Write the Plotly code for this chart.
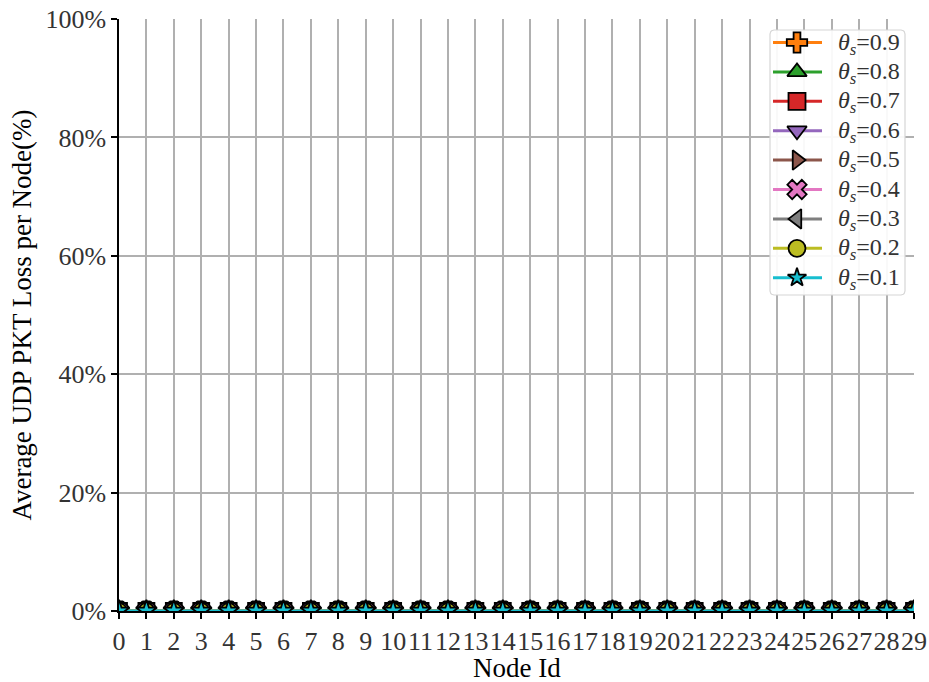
import numpy as np
import plotly.graph_objects as go

# Node ids on the x axis
node_ids = list(range(30))

# Threshold settings, in plotting order
thresholds = ["0.9", "0.8", "0.7", "0.6", "0.5", "0.4", "0.3", "0.2", "0.1"]

# Average UDP packet loss per node (%) for each threshold
loss_09 = [0.0] * 30
loss_08 = [0.0] * 30
loss_07 = [0.0] * 30
loss_06 = [0.0] * 30
loss_05 = [0.0] * 30
loss_04 = [0.0] * 30
loss_03 = [0.0] * 30
loss_02 = [0.0] * 30
loss_01 = [0.0] * 30

series = [loss_09, loss_08, loss_07, loss_06, loss_05, loss_04, loss_03, loss_02, loss_01]

# y ticks
y_ticks = [0, 20, 40, 60, 80, 100]
y_tick_labels = [f"{v}%" for v in y_ticks]

colors = ["#ff7f0e", "#2ca02c", "#d62728", "#9467bd", "#8c564b",
          "#e377c2", "#7f7f7f", "#bcbd22", "#17becf"]
symbols = ["cross", "triangle-up", "square", "triangle-down", "triangle-right",
           "x", "triangle-left", "circle", "star"]
legend_sizes = [17, 17, 17, 17, 17, 17, 17, 17, 14]

font_family = "Liberation Serif, Times New Roman, serif"

W, H = 929, 682
ML, MR, MT, MB = 119, 15, 19, 71
PX0, PX1, PY0, PY1 = ML, W - MR, MT, H - MB   # plot area in pixels

fig = go.Figure()
for th, vals, col, sym in zip(thresholds, series, colors, symbols):
    fig.add_trace(go.Scatter(
        x=node_ids, y=vals, mode="lines+markers",
        line=dict(color=col, width=3),
        marker=dict(symbol=sym, size=16, color=col,
                    line=dict(color="black", width=1.8)),
        cliponaxis=True, showlegend=False,
    ))

# ---- hand-drawn legend on a pixel-unit overlay axis ----
LX0, LX1, LY0, LY1 = 770, 905, 30, 295
r = 4
corners = [(LX1 - r, LY0 + r, -np.pi / 2, 0), (LX1 - r, LY1 - r, 0, np.pi / 2),
           (LX0 + r, LY1 - r, np.pi / 2, np.pi), (LX0 + r, LY0 + r, np.pi, 1.5 * np.pi)]
bx, by = [], []
for cx, cy, a0, a1 in corners:
    t = np.linspace(a0, a1, 6)
    bx += list(cx + r * np.cos(t))
    by += list(cy + r * np.sin(t))
bx.append(bx[0]); by.append(by[0])
fig.add_trace(go.Scatter(
    x=bx, y=by, xaxis="x2", yaxis="y2", mode="lines", fill="toself",
    fillcolor="rgba(255,255,255,0.92)", line=dict(color="#d6d6d6", width=1.2),
    hoverinfo="skip", showlegend=False,
))

row_y0, row_step = 42.5, 29.4
for i, (th, col, sym, ms) in enumerate(zip(thresholds, colors, symbols, legend_sizes)):
    yc = row_y0 + i * row_step
    fig.add_trace(go.Scatter(
        x=[773, 822], y=[yc, yc], xaxis="x2", yaxis="y2", mode="lines",
        line=dict(color=col, width=3), hoverinfo="skip", showlegend=False,
    ))
    fig.add_trace(go.Scatter(
        x=[797], y=[yc], xaxis="x2", yaxis="y2", mode="markers",
        marker=dict(symbol=sym, size=ms, color=col,
                    line=dict(color="black", width=1.8)),
        hoverinfo="skip", showlegend=False,
    ))
    fig.add_annotation(
        x=836, y=yc + 1, xref="x2", yref="y2", xanchor="left", yanchor="middle",
        text=f"<i>θ</i><sub><i>s</i></sub>=" + th, showarrow=False,
        font=dict(family=font_family, size=24, color="#333333"),
    )

# x axis title placed below the tick labels
fig.add_annotation(
    x=0.5, y=(PY1 - 668) / (PY1 - PY0), xref="paper", yref="paper",
    xanchor="center", yanchor="middle", text="Node Id", showarrow=False,
    font=dict(family=font_family, size=27, color="black"),
)

fig.update_layout(
    width=W, height=H,
    margin=dict(l=ML, r=MR, t=MT, b=MB),
    paper_bgcolor="white", plot_bgcolor="white",
    font=dict(family=font_family, color="#222222", size=26),
    showlegend=False,
    xaxis=dict(
        range=[0, 29], tickmode="array", tickvals=node_ids,
        ticktext=[str(i) for i in node_ids], tickangle=0,
        automargin=False,
        showgrid=True, gridcolor="#b0b0b0", gridwidth=1.5,
        showline=True, linecolor="black", linewidth=1.5,
        ticks="outside", ticklen=6, tickwidth=1.5, tickcolor="black",
        zeroline=False,
        tickfont=dict(size=26, color="#333333"),
    ),
    yaxis=dict(
        range=[0, 100], tickmode="array", tickvals=y_ticks, ticktext=y_tick_labels,
        automargin=False,
        showgrid=True, gridcolor="#b0b0b0", gridwidth=1.5,
        showline=True, linecolor="black", linewidth=1.5,
        ticks="outside", ticklen=6, tickwidth=1.5, tickcolor="black",
        zeroline=False,
        title=dict(text="Average UDP PKT Loss per Node(%)",
                   font=dict(size=27, color="black"), standoff=6),
        tickfont=dict(size=26, color="#333333"),
    ),
    xaxis2=dict(overlaying="x", anchor="y2", range=[PX0, PX1], visible=False,
                showgrid=False, zeroline=False, fixedrange=True),
    yaxis2=dict(overlaying="y", anchor="x2", range=[PY1, PY0], visible=False,
                showgrid=False, zeroline=False, fixedrange=True),
)

fig.write_html("out.html")
